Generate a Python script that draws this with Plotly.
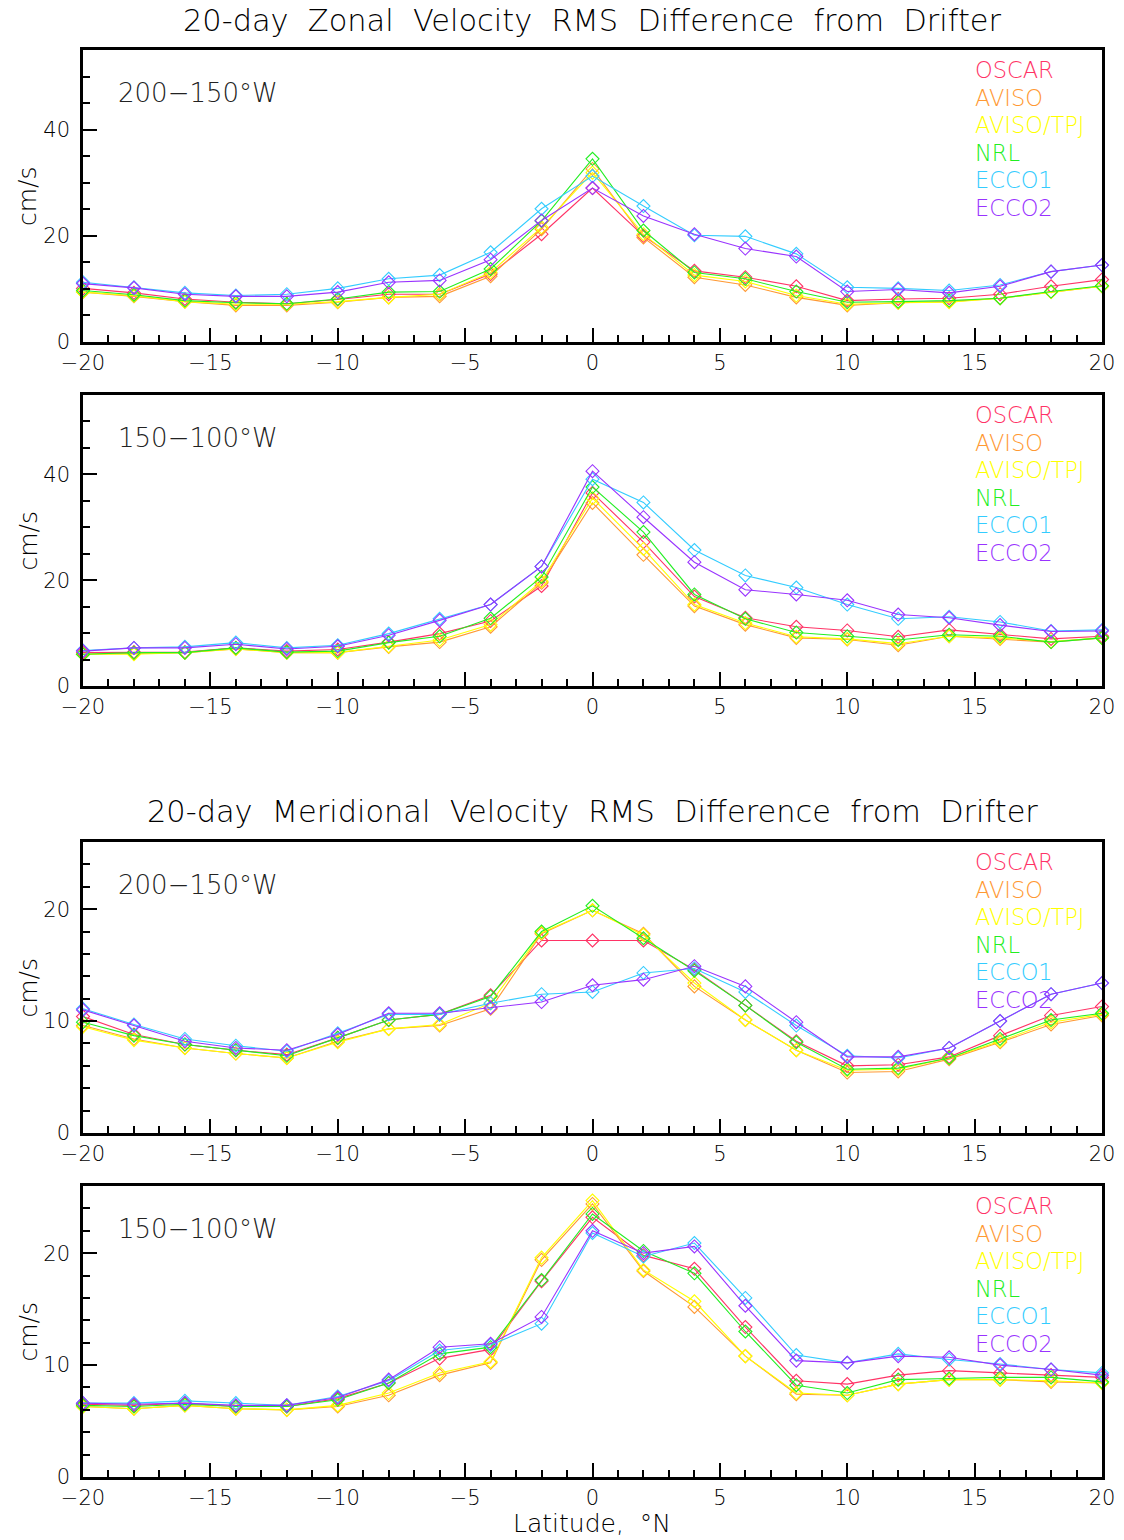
import plotly.graph_objects as go

W, H = 1124, 1540

lat = [-20, -18, -16, -14, -12, -10, -8, -6, -4, -2, 0, 2, 4, 6, 8, 10, 12, 14, 16, 18, 20]

series_names = ["OSCAR", "AVISO", "AVISO/TPJ", "NRL", "ECCO1", "ECCO2"]
series_colors = ["#FF3366", "#FF9933", "#FFFF00", "#22EE22", "#33CCFF", "#9933FF"]

# Zonal, 200-150W
zon_w_oscar = [10.1, 9.25, 8.1, 7.5, 7.2, 8.0, 9.0, 9.0, 12.8, 20.3, 29.0, 20.0, 13.4, 12.2, 10.5, 7.8, 8.1, 8.25, 9.0, 10.5, 11.75]
zon_w_aviso = [9.4, 8.6, 7.6, 6.9, 6.9, 7.5, 8.4, 8.6, 12.4, 21.25, 32.6, 19.7, 12.2, 10.75, 8.4, 6.9, 7.4, 7.6, 8.25, 9.4, 10.5]
zon_w_tpj = [9.4, 8.7, 7.6, 7.1, 7.1, 7.6, 8.4, 9.0, 13.1, 21.6, 31.9, 20.3, 12.6, 11.4, 8.75, 7.1, 7.4, 7.5, 8.25, 9.4, 10.5]
zon_w_nrl = [9.7, 8.9, 7.8, 7.4, 7.2, 8.1, 9.4, 9.5, 13.75, 22.8, 34.5, 21.0, 13.1, 11.9, 9.5, 7.5, 7.6, 7.8, 8.25, 9.5, 10.6]
zon_w_ecco1 = [11.25, 10.3, 9.25, 8.75, 9.0, 10.1, 11.9, 12.6, 16.9, 25.1, 31.25, 25.6, 20.1, 19.9, 16.6, 10.3, 10.1, 9.7, 10.75, 13.25, 14.5]
zon_w_ecco2 = [11.0, 10.2, 9.0, 8.6, 8.6, 9.4, 11.25, 11.6, 15.5, 22.9, 29.0, 23.75, 20.3, 17.6, 16.1, 9.5, 9.9, 9.25, 10.5, 13.25, 14.5]

# Zonal, 150-100W
zon_e_oscar = [6.3, 6.4, 6.4, 7.2, 6.6, 6.9, 8.3, 9.9, 12.3, 18.9, 36.5, 27.2, 16.9, 12.9, 11.2, 10.5, 9.3, 10.6, 9.7, 8.9, 9.4]
zon_e_aviso = [6.0, 6.1, 6.3, 7.0, 6.3, 6.3, 7.4, 8.3, 11.2, 19.5, 34.6, 24.8, 15.1, 11.6, 9.1, 8.8, 7.7, 9.4, 8.9, 8.3, 9.1]
zon_e_tpj = [6.0, 6.0, 6.3, 7.0, 6.3, 6.3, 7.5, 8.7, 11.6, 19.8, 35.5, 25.9, 15.4, 11.9, 9.3, 8.9, 8.0, 9.4, 9.1, 8.4, 9.1]
zon_e_nrl = [6.0, 6.3, 6.3, 7.2, 6.4, 6.6, 8.2, 9.4, 12.8, 20.6, 37.6, 29.1, 17.3, 12.7, 10.1, 9.4, 8.7, 9.7, 9.4, 8.3, 9.1]
zon_e_ecco1 = [6.7, 7.2, 7.4, 8.2, 7.2, 7.7, 9.9, 12.7, 15.4, 22.6, 39.1, 34.7, 25.7, 20.9, 18.6, 15.4, 12.7, 13.1, 12.1, 10.4, 10.6]
zon_e_ecco2 = [6.6, 7.2, 7.2, 7.9, 7.0, 7.5, 9.6, 12.4, 15.4, 22.6, 40.6, 31.9, 23.4, 18.2, 17.3, 16.2, 13.5, 12.9, 11.5, 10.3, 10.4]

# Meridional, 200-150W
mer_w_oscar = [10.4, 8.8, 7.9, 7.4, 7.0, 8.5, 10.1, 10.6, 12.3, 17.2, 17.2, 17.2, 14.6, 11.4, 8.2, 6.0, 6.1, 6.8, 8.7, 10.5, 11.3]
mer_w_aviso = [9.6, 8.4, 7.6, 7.1, 6.7, 8.2, 9.3, 9.6, 11.1, 17.8, 19.9, 17.8, 13.1, 10.1, 7.4, 5.4, 5.5, 6.6, 8.1, 9.7, 10.5]
mer_w_tpj = [9.5, 8.3, 7.6, 7.1, 6.7, 8.1, 9.3, 9.7, 11.6, 17.9, 19.9, 17.7, 13.4, 10.1, 7.4, 5.6, 5.7, 6.7, 8.2, 9.9, 10.6]
mer_w_nrl = [9.9, 8.7, 7.9, 7.4, 6.9, 8.5, 10.1, 10.6, 12.2, 18.0, 20.3, 17.4, 14.5, 11.4, 8.1, 5.7, 5.8, 6.7, 8.4, 10.1, 10.7]
mer_w_ecco1 = [11.1, 9.7, 8.4, 7.8, 7.3, 8.9, 10.6, 10.6, 11.6, 12.4, 12.6, 14.3, 14.7, 12.6, 9.6, 6.9, 6.7, 7.6, 10.0, 12.4, 13.4]
mer_w_ecco2 = [11.0, 9.6, 8.2, 7.6, 7.4, 8.8, 10.7, 10.7, 11.2, 11.7, 13.2, 13.7, 14.9, 13.1, 9.9, 6.8, 6.8, 7.6, 10.0, 12.4, 13.4]

# Meridional, 150-100W
mer_e_oscar = [6.5, 6.4, 6.6, 6.3, 6.3, 7.0, 8.4, 10.6, 11.4, 17.5, 23.2, 19.8, 18.6, 13.4, 8.6, 8.3, 9.1, 9.5, 9.3, 9.1, 8.9]
mer_e_aviso = [6.3, 6.1, 6.4, 6.1, 6.0, 6.3, 7.3, 9.1, 10.2, 19.4, 24.4, 18.4, 15.2, 10.8, 7.4, 7.3, 8.3, 8.7, 8.7, 8.5, 8.4]
mer_e_tpj = [6.3, 6.1, 6.4, 6.1, 6.0, 6.4, 7.5, 9.3, 10.3, 19.6, 24.7, 18.5, 15.7, 10.8, 7.5, 7.3, 8.3, 8.7, 8.7, 8.6, 8.4]
mer_e_nrl = [6.4, 6.3, 6.5, 6.3, 6.3, 6.9, 8.4, 11.0, 11.6, 17.6, 23.5, 20.2, 18.2, 13.0, 8.2, 7.5, 8.7, 8.8, 8.9, 8.9, 8.5]
mer_e_ecco1 = [6.6, 6.6, 6.8, 6.6, 6.4, 7.2, 8.6, 11.3, 11.8, 13.7, 21.8, 19.7, 20.9, 16.0, 10.9, 10.2, 11.0, 10.5, 10.1, 9.6, 9.3]
mer_e_ecco2 = [6.6, 6.5, 6.6, 6.4, 6.4, 7.1, 8.7, 11.6, 11.9, 14.3, 22.0, 20.0, 20.6, 15.3, 10.4, 10.2, 10.8, 10.7, 10.0, 9.6, 9.1]

panel_labels = ["200\u2212150\u00b0W", "150\u2212100\u00b0W", "200\u2212150\u00b0W", "150\u2212100\u00b0W"]
titles = ["20-day  Zonal  Velocity  RMS  Difference  from  Drifter",
          "20-day  Meridional  Velocity  RMS  Difference  from  Drifter"]
x_title = "Latitude,  \u00b0N"
y_title = "cm/s"

panels = [
    [zon_w_oscar, zon_w_aviso, zon_w_tpj, zon_w_nrl, zon_w_ecco1, zon_w_ecco2],
    [zon_e_oscar, zon_e_aviso, zon_e_tpj, zon_e_nrl, zon_e_ecco1, zon_e_ecco2],
    [mer_w_oscar, mer_w_aviso, mer_w_tpj, mer_w_nrl, mer_w_ecco1, mer_w_ecco2],
    [mer_e_oscar, mer_e_aviso, mer_e_tpj, mer_e_nrl, mer_e_ecco1, mer_e_ecco2],
]

# layout geometry (pixels)
x_left, x_right = 83, 1102
panel_px = [(50, 342), (395, 686), (842, 1133), (1186, 1477)]
y_ranges = [[0, 55], [0, 55], [0, 26], [0, 26]]
y_dticks = [20, 20, 10, 10]
y_minor = [5, 5, 2, 2]

FONT = "DejaVu Sans"
WEIGHT = 200

def px_x(p):
    return p / W

def px_y(p):
    return 1 - p / H

def fnt(size, color="black"):
    return dict(family=FONT, size=size, color=color, weight=WEIGHT)

fig = go.Figure()
layout = dict(
    width=W, height=H,
    margin=dict(l=0, r=0, t=0, b=0, autoexpand=False),
    paper_bgcolor="white", plot_bgcolor="white",
    showlegend=False,
    font=fnt(20),
)
annotations = []

for i, (vals_list, (top, bot)) in enumerate(zip(panels, panel_px)):
    n = "" if i == 0 else str(i + 1)
    for name, color, vals in zip(series_names, series_colors, vals_list):
        fig.add_trace(go.Scatter(
            x=lat, y=vals, mode="lines+markers", name=name,
            line=dict(color=color, width=1.1),
            marker=dict(symbol="diamond-open", size=10, color=color, line=dict(width=1.1, color=color)),
            xaxis="x" + n, yaxis="y" + n, cliponaxis=False,
        ))
    layout["xaxis" + n] = dict(
        domain=[px_x(x_left), px_x(x_right)], anchor="y" + n, automargin=False,
        range=[-20, 20], tickmode="linear", tick0=-20, dtick=5,
        ticks="inside", ticklen=14, tickwidth=1.5, tickcolor="black",
        minor=dict(dtick=1, ticks="inside", ticklen=7, tickwidth=1.5, tickcolor="black"),
        showline=True, linewidth=2.5, linecolor="black", mirror=True,
        showgrid=False, zeroline=False,
        tickfont=fnt(21),
    )
    layout["yaxis" + n] = dict(
        domain=[px_y(bot), px_y(top)], anchor="x" + n, automargin=False,
        range=y_ranges[i], tickmode="linear", tick0=0, dtick=y_dticks[i],
        ticks="inside", ticklen=14, tickwidth=1.5, tickcolor="black",
        minor=dict(dtick=y_minor[i], ticks="inside", ticklen=7, tickwidth=1.5, tickcolor="black"),
        showline=True, linewidth=2.5, linecolor="black", mirror=True,
        showgrid=False, zeroline=False, ticklabelstandoff=6,
        tickfont=fnt(21),
    )
    # panel label
    annotations.append(dict(
        text=panel_labels[i], x=px_x(116), y=px_y(top + 43), xref="paper", yref="paper",
        xanchor="left", yanchor="middle", showarrow=False,
        font=fnt(26, "#222222"),
    ))
    # legend text
    for k, (name, color) in enumerate(zip(series_names, series_colors)):
        annotations.append(dict(
            text=name, x=px_x(973), y=px_y(top + 20 + 27.6 * k), xref="paper", yref="paper",
            xanchor="left", yanchor="middle", showarrow=False,
            font=fnt(22.5, color),
        ))
    # y title
    annotations.append(dict(
        text=y_title, x=px_x(28), y=px_y((top + bot) / 2), xref="paper", yref="paper",
        xanchor="center", yanchor="middle", showarrow=False, textangle=-90,
        font=fnt(25),
    ))

# main titles
for t, ypix in zip(titles, [20, 811]):
    annotations.append(dict(
        text=t, x=px_x((x_left + x_right) / 2), y=px_y(ypix), xref="paper", yref="paper",
        xanchor="center", yanchor="middle", showarrow=False,
        font=fnt(30.4),
    ))

annotations.append(dict(
    text=x_title, x=px_x(592), y=px_y(1523), xref="paper", yref="paper",
    xanchor="center", yanchor="middle", showarrow=False,
    font=fnt(25),
))

layout["annotations"] = annotations
fig.update_layout(**layout)
fig.write_html("out.html")
